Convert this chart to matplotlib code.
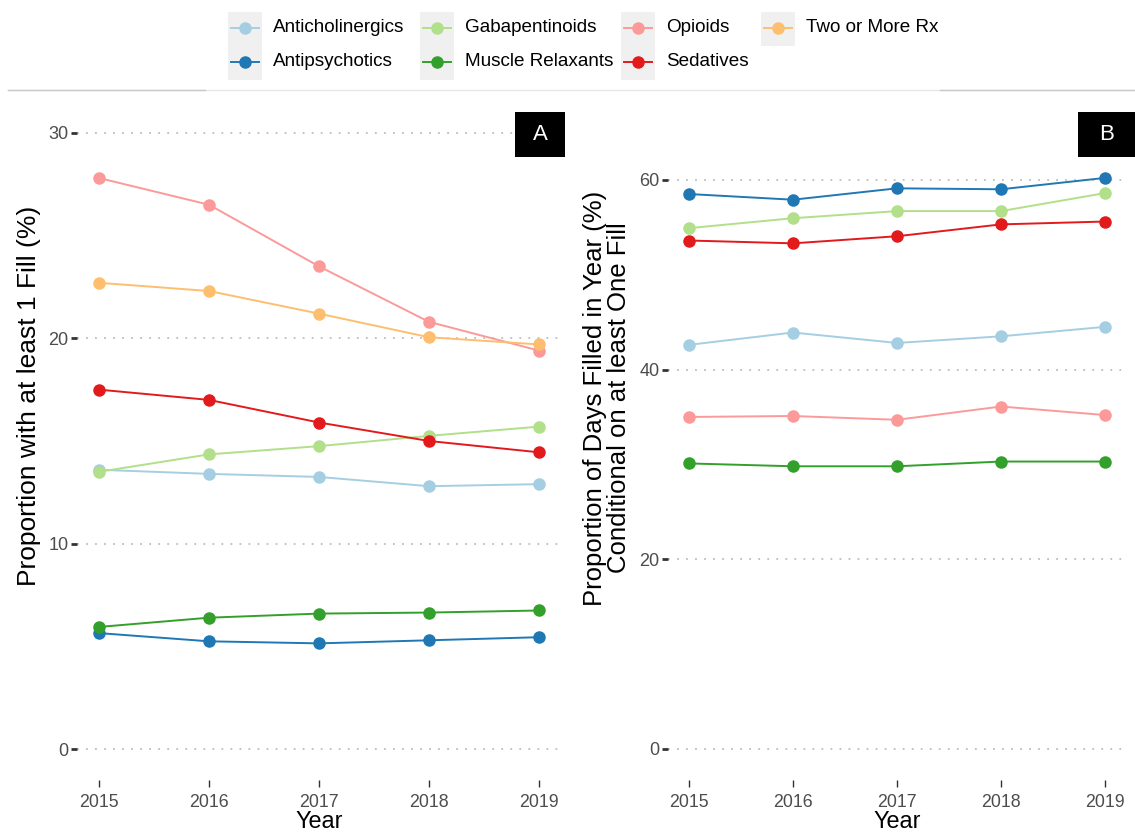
import matplotlib.pyplot as plt
from matplotlib.patches import Rectangle
from matplotlib.lines import Line2D

# -- Data --
years = [2015, 2016, 2017, 2018, 2019]
drugs = ["Anticholinergics", "Antipsychotics", "Gabapentinoids", "Muscle Relaxants",
         "Opioids", "Sedatives", "Two or More Rx"]
colors = ["#A6CEE3", "#1F78B4", "#B2DF8A", "#33A02C", "#FB9A99", "#E31A1C", "#FDBF6F"]

# panel A: proportion with at least 1 fill (%)
any_fill = {
    "Anticholinergics": [13.6, 13.4, 13.25, 12.8, 12.9],
    "Antipsychotics": [5.65, 5.25, 5.15, 5.3, 5.45],
    "Gabapentinoids": [13.5, 14.35, 14.75, 15.25, 15.7],
    "Muscle Relaxants": [5.95, 6.4, 6.6, 6.65, 6.75],
    "Opioids": [27.8, 26.5, 23.5, 20.8, 19.4],
    "Sedatives": [17.5, 17.0, 15.9, 15.0, 14.45],
    "Two or More Rx": [22.7, 22.3, 21.2, 20.05, 19.7],
}

# panel B: proportion of days filled, conditional on at least one fill (%)
days_filled = {
    "Anticholinergics": [42.6, 43.9, 42.8, 43.5, 44.5],
    "Antipsychotics": [58.5, 57.9, 59.1, 59.0, 60.2],
    "Gabapentinoids": [54.9, 55.95, 56.7, 56.7, 58.6],
    "Muscle Relaxants": [30.1, 29.8, 29.8, 30.3, 30.3],
    "Opioids": [35.0, 35.1, 34.7, 36.1, 35.2],
    "Sedatives": [53.6, 53.3, 54.05, 55.3, 55.6],
}

W, H = 1135, 834
fig = plt.figure(figsize=(W / 100, H / 100), dpi=100)
plt.rcParams['font.family'] = ['Liberation Sans', 'DejaVu Sans']


def fx(px):
    return px / W


def fy(py):
    return 1 - py / H


def style_axis(ax, yticks):
    for s in ax.spines.values():
        s.set_visible(False)
    ax.set_yticks(yticks)
    ax.set_xticks(years)
    ax.yaxis.grid(True, linestyle=(0, (1, 4)), color="#BDBDBD", linewidth=1.3)
    ax.xaxis.grid(False)
    ax.tick_params(axis="y", length=4, width=2, color="#333333", labelsize=13,
                   labelcolor="#4D4D4D", pad=2)
    ax.tick_params(axis="x", length=5, width=1, color="#333333", labelsize=12.8,
                   labelcolor="#4D4D4D", pad=5)
    ax.set_xlabel("Year", fontsize=16.8, labelpad=-1)
    ax.set_facecolor("white")


# -- Panel A --
axA = fig.add_axes([fx(77), fy(780), fx(561 - 77), (780 - 102) / H])
for name, c in zip(drugs, colors):
    axA.plot(years, any_fill[name], color=c, linewidth=1.4, marker="o", markersize=8)
axA.set_xlim(2015 - 0.2, 2019 + 0.2)
axA.set_ylim(-1.5, 31.5)
style_axis(axA, [0, 10, 20, 30])

# -- Panel B --
axB = fig.add_axes([fx(668), fy(780), fx(1126 - 668), (780 - 102) / H])
for name, c in zip(drugs, colors):
    if name in days_filled:
        axB.plot(years, days_filled[name], color=c, linewidth=1.4, marker="o", markersize=8)
axB.set_xlim(2015 - 0.2, 2019 + 0.2)
axB.set_ylim(-3.27, 68.2)
style_axis(axB, [0, 20, 40, 60])

# y labels
fig.text(fx(29), fy(396), "Proportion with at least 1 Fill (%)", rotation=90,
         ha="center", va="center", fontsize=19)
fig.text(fx(607), fy(398), "Proportion of Days Filled in Year (%)\nConditional on at least One Fill",
         rotation=90, ha="center", va="center", fontsize=18.5, linespacing=1.02)

# panel tags
for label, x0, x1 in [("A", 515, 565), ("B", 1078, 1135)]:
    fig.patches.append(Rectangle((fx(x0), fy(157)), fx(x1 - x0), (157 - 112) / H,
                                 transform=fig.transFigure, facecolor="black",
                                 edgecolor="none", zorder=5))
    fig.text(fx((x0 + x1) / 2), fy(135), label, color="white", fontsize=16,
             ha="center", va="center", zorder=6)

# legend (two rows, filled column-wise, grey key backgrounds)
col_x = [245, 437, 638, 778]
row_y = [28, 62]
for i, (name, c) in enumerate(zip(drugs, colors)):
    col, row = divmod(i, 2)
    kx, ky = col_x[col], row_y[row]
    if row == 0:
        n_rows = 2 if i + 1 < len(drugs) else 1
        fig.patches.append(Rectangle((fx(kx - 17), fy(12 + 34 * n_rows)), fx(34), 34 * n_rows / H,
                                     transform=fig.transFigure, facecolor="#F0F0F0",
                                     edgecolor="none"))
    fig.lines.append(Line2D([fx(kx - 14), fx(kx + 14)], [fy(ky), fy(ky)], color=c,
                            linewidth=1.4, transform=fig.transFigure))
    fig.lines.append(Line2D([fx(kx)], [fy(ky)], color=c, marker="o", markersize=8,
                            transform=fig.transFigure))
    fig.text(fx(kx + 28), fy(ky), name, fontsize=13.6, ha="left", va="center")

# separator line under legend
fig.lines.append(Line2D([fx(8), fx(1135)], [fy(90), fy(90)], color="#E6E6E6",
                        linewidth=1, transform=fig.transFigure))
fig.lines.append(Line2D([fx(8), fx(205)], [fy(90), fy(90)], color="#C8C8C8",
                        linewidth=1, transform=fig.transFigure))
fig.lines.append(Line2D([fx(940), fx(1135)], [fy(90), fy(90)], color="#C8C8C8",
                        linewidth=1, transform=fig.transFigure))

fig.savefig("out.png", dpi=100)
